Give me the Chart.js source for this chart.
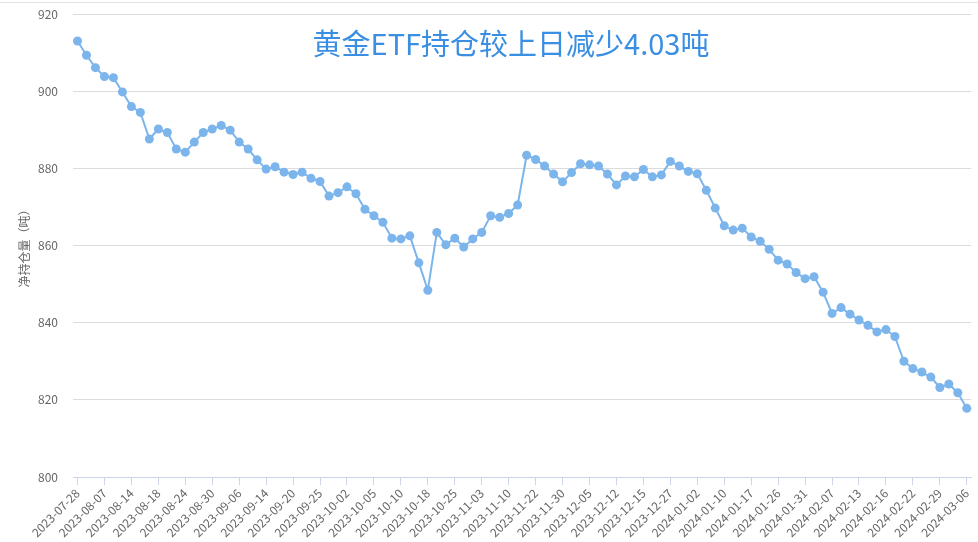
<!DOCTYPE html>
<html>
<head>
<meta charset="utf-8">
<script src="https://cdn.jsdelivr.net/npm/chart.js@4.4.1/dist/chart.umd.min.js"></script>
<style>
    html, body { margin: 0; padding: 0; background: #fff; }
    #wrap { position: relative; width: 978px; height: 542px; }
    #linea { position: absolute; left: 0; top: 2px; width: 978px; height: 1px; background: #e3e3e3; }
    #titulo {
        position: absolute; left: 0; width: 978px; top: 23px; text-align: center;
        padding-left: 44px; box-sizing: border-box;
        font: 29px "Noto Sans CJK SC", sans-serif; color: #3a8fe2; line-height: 38px;
    }
</style>
</head>
<body>
<div id="wrap">
    <canvas id="grafico" width="978" height="542"></canvas>
    <div id="linea"></div>
    <div id="titulo">黄金ETF持仓较上日减少4.03吨</div>
</div>
<script>
// fechas (solo una de cada tres se muestra en el eje)
const fechas = [
    "2023-07-28", "2023-08-01", "2023-08-03", "2023-08-07", "2023-08-09", "2023-08-11",
    "2023-08-14", "2023-08-15", "2023-08-16", "2023-08-18", "2023-08-21", "2023-08-22",
    "2023-08-24", "2023-08-25", "2023-08-28", "2023-08-30", "2023-08-31", "2023-09-01",
    "2023-09-06", "2023-09-08", "2023-09-12", "2023-09-14", "2023-09-15", "2023-09-18",
    "2023-09-20", "2023-09-21", "2023-09-22", "2023-09-25", "2023-09-27", "2023-09-28",
    "2023-10-02", "2023-10-03", "2023-10-04", "2023-10-05", "2023-10-06", "2023-10-09",
    "2023-10-10", "2023-10-12", "2023-10-16", "2023-10-18", "2023-10-19", "2023-10-23",
    "2023-10-25", "2023-10-27", "2023-10-31", "2023-11-03", "2023-11-06", "2023-11-08",
    "2023-11-10", "2023-11-14", "2023-11-17", "2023-11-22", "2023-11-24", "2023-11-28",
    "2023-11-30", "2023-12-01", "2023-12-04", "2023-12-05", "2023-12-07", "2023-12-08",
    "2023-12-12", "2023-12-13", "2023-12-14", "2023-12-15", "2023-12-19", "2023-12-21",
    "2023-12-27", "2023-12-28", "2023-12-29", "2024-01-02", "2024-01-04", "2024-01-08",
    "2024-01-10", "2024-01-11", "2024-01-12", "2024-01-17", "2024-01-19", "2024-01-23",
    "2024-01-26", "2024-01-29", "2024-01-30", "2024-01-31", "2024-02-02", "2024-02-05",
    "2024-02-07", "2024-02-08", "2024-02-09", "2024-02-13", "2024-02-14", "2024-02-15",
    "2024-02-16", "2024-02-20", "2024-02-21", "2024-02-22", "2024-02-26", "2024-02-27",
    "2024-02-29", "2024-03-01", "2024-03-04", "2024-03-06"
];

//净持仓量（吨）
const tenencia = [
    913.0, 909.3, 906.1, 903.8, 903.5, 899.8, 896.0, 894.5, 887.6, 890.2,
    889.3, 885.0, 884.2, 886.8, 889.3, 890.2, 891.1, 889.9, 886.8, 885.0,
    882.2, 879.8, 880.4, 879.0, 878.4, 879.0, 877.4, 876.6, 872.8, 873.7,
    875.2, 873.4, 869.4, 867.7, 866.0, 861.9, 861.7, 862.5, 855.5, 848.4,
    863.4, 860.2, 861.9, 859.6, 861.7, 863.4, 867.7, 867.3, 868.3, 870.5,
    883.4, 882.3, 880.6, 878.5, 876.5, 878.9, 881.2, 880.9, 880.6, 878.5,
    875.7, 878.0, 877.8, 879.7, 877.8, 878.3, 881.8, 880.6, 879.2, 878.6,
    874.3, 869.7, 865.1, 864.0, 864.5, 862.2, 861.1, 859.0, 856.2, 855.2,
    853.0, 851.4, 851.9, 847.9, 842.4, 843.9, 842.2, 840.7, 839.3, 837.6,
    838.2, 836.4, 830.0, 828.1, 827.2, 825.9, 823.2, 824.1, 821.83, 817.8
];

const ejeY = { min: 800, max: 920, paso: 20 };
const tituloY = "净持仓量（吨）";

const fuente = '"Noto Sans CJK SC", "Noto Sans", sans-serif';
const ctx = document.getElementById("grafico").getContext("2d");

window.miGrafico = new Chart(ctx, {
    type: "line",
    data: {
        labels: fechas,
        datasets: [{
            label: "净持仓量",
            data: tenencia,
            borderColor: "#7cb5ec",
            backgroundColor: "#7cb5ec",
            borderWidth: 2,
            pointRadius: 4.5,
            pointHoverRadius: 5,
            pointBorderWidth: 0,
            tension: 0
        }]
    },
    options: {
        responsive: false,
        animation: false,
        layout: { padding: { top: 14, right: 6, left: 0, bottom: 0 } },
        plugins: {
            legend: { display: false },
            tooltip: { enabled: false }
        },
        scales: {
            x: {
                type: "category",
                offset: true,
                grid: {
                    offset: false,
                    drawOnChartArea: false,
                    drawTicks: true,
                    tickLength: 8,
                    color: "#ccd6eb"
                },
                border: { display: true, color: "#ccd6eb", width: 1 },
                ticks: {
                    autoSkip: false,
                    minRotation: 45,
                    maxRotation: 45,
                    padding: 1,
                    color: "#666",
                    font: { family: fuente, size: 12 },
                    callback: function (valor, i) {
                        return i % 3 === 0 ? this.getLabelForValue(valor) : null;
                    }
                },
                afterFit: (escala) => { escala.height = 65; }
            },
            y: {
                min: ejeY.min,
                max: ejeY.max,
                grid: { color: "#dcdcdc", drawTicks: false },
                border: { display: false },
                ticks: {
                    stepSize: ejeY.paso,
                    padding: 15,
                    color: "#666",
                    font: { family: fuente, size: 12 }
                },
                title: {
                    display: true,
                    text: tituloY,
                    color: "#666",
                    font: { family: fuente, size: 12 },
                    padding: { top: 17, bottom: 0 }
                },
                afterFit: (escala) => {
                    escala.width = 73;
                    escala.paddingTop = 0;
                    escala.paddingBottom = 0;
                }
            }
        }
    }
});
</script>
</body>
</html>
